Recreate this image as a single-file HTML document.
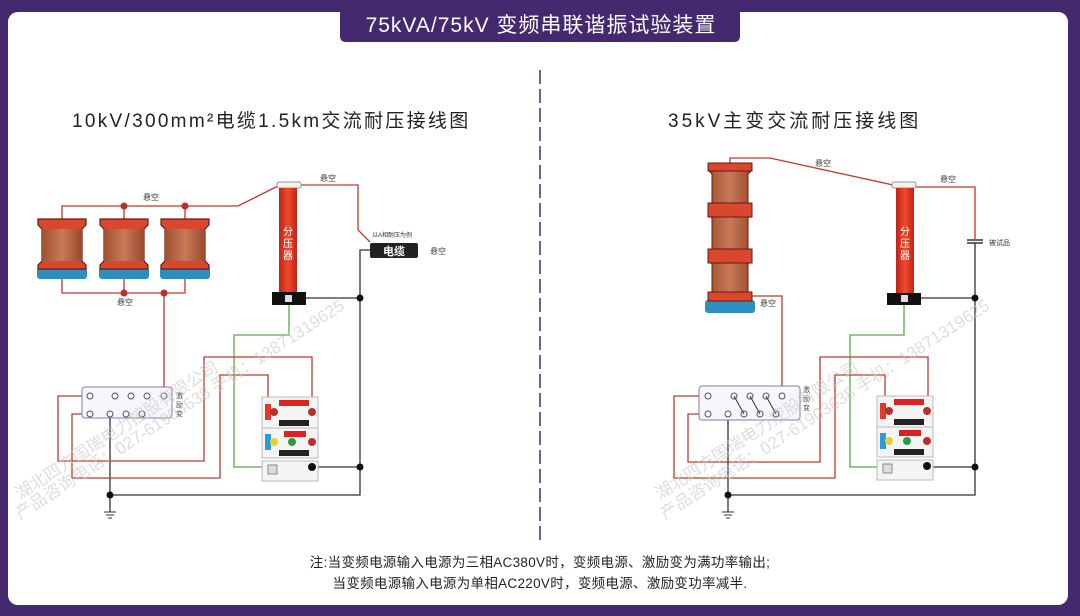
<!DOCTYPE html>
<html><head><meta charset="utf-8"><style>
html,body{margin:0;padding:0;width:1080px;height:616px;overflow:hidden;background:#44296f}
svg{display:block}
text{font-family:"Liberation Sans","Noto Sans CJK SC",sans-serif}
</style></head><body>
<svg width="1080" height="616" viewBox="0 0 1080 616" xmlns="http://www.w3.org/2000/svg">
<defs>
<linearGradient id="coil" x1="0" x2="1" y1="0" y2="0">
<stop offset="0" stop-color="#a0502e"/><stop offset="0.5" stop-color="#c8795a"/><stop offset="1" stop-color="#9a4a2a"/></linearGradient>
<linearGradient id="col" x1="0" x2="1"><stop offset="0" stop-color="#c0231a"/><stop offset="0.5" stop-color="#ee4a2a"/><stop offset="1" stop-color="#c0231a"/></linearGradient>
<g id="react">
<rect x="-3" y="48" width="50" height="12" rx="3" fill="#2e8fbf"/>
<path d="M-2 0 H46 V6 L42 10 V42 L46 46 V50 H-2 V46 L2 42 V10 L-2 6 Z" fill="#d9472e" stroke="#6a1a0f" stroke-width="1.2"/>
<rect x="2" y="10" width="40" height="32" fill="url(#coil)"/>
</g>
<g id="ctrl">
<rect x="0" y="0" width="56" height="31" fill="#f4f4f4" stroke="#bbb"/>
<rect x="3" y="7" width="6" height="16" fill="#e03a2a"/>
<rect x="17" y="3" width="30" height="6" fill="#d22"/>
<rect x="17" y="23" width="30" height="6" fill="#222"/>
<circle cx="12" cy="15" r="4" fill="#b8302a"/><circle cx="50" cy="15" r="4" fill="#b8302a"/>
<rect x="0" y="31" width="56" height="30" fill="#f4f4f4" stroke="#bbb"/>
<rect x="3" y="37" width="6" height="16" fill="#2a9ad8"/>
<rect x="22" y="34" width="22" height="6" fill="#d22"/>
<rect x="17" y="53" width="30" height="6" fill="#222"/>
<circle cx="12" cy="45" r="4" fill="#e8d030"/><circle cx="30" cy="45" r="4" fill="#2a9a3a"/><circle cx="50" cy="45" r="4" fill="#b8302a"/>
<rect x="0" y="64" width="56" height="20" fill="#f4f4f4" stroke="#bbb"/>
<rect x="6" y="68" width="9" height="9" fill="#ddd" stroke="#888"/>
<circle cx="50" cy="70" r="4" fill="#111"/>
</g>
<g id="gnd" stroke="#333" stroke-width="1"><line x1="-6" y1="0" x2="6" y2="0"/><line x1="-4" y1="3" x2="4" y2="3"/><line x1="-2" y1="6" x2="2" y2="6"/></g>
</defs>
<rect x="8" y="12" width="1060" height="593" rx="10" fill="#fff"/>
<path d="M340 8 H740 V36 Q740 42 734 42 H346 Q340 42 340 36 Z" fill="#44296f"/>
<text x="541" y="32" font-size="21" fill="#fff" text-anchor="middle" letter-spacing="1">75kVA/75kV 变频串联谐振试验装置</text>
<line x1="540" y1="70" x2="540" y2="545" stroke="#44296f" stroke-width="1.5" stroke-dasharray="14,5"/>
<text x="72" y="127" font-size="19" fill="#222" letter-spacing="2.3">10kV/300mm²电缆1.5km交流耐压接线图</text>
<text x="668" y="127" font-size="19" fill="#222" letter-spacing="3">35kV主变交流耐压接线图</text>
<text x="540" y="567" font-size="13.5" fill="#222" text-anchor="middle" letter-spacing="0.3">注:当变频电源输入电源为三相AC380V时，变频电源、激励变为满功率输出;</text>
<text x="540" y="588" font-size="13.5" fill="#222" text-anchor="middle" letter-spacing="0.3">当变频电源输入电源为单相AC220V时，变频电源、激励变功率减半.</text>

<!-- LEFT -->
<g fill="none" stroke-width="1.3">
<polyline stroke="#c0392b" points="62,219 62,206 238,206 278,186"/>
<line stroke="#c0392b" x1="124" y1="206" x2="124" y2="219"/><line stroke="#c0392b" x1="185" y1="206" x2="185" y2="219"/>
<polyline stroke="#c0392b" points="62,267 62,293 185,293 185,267"/><line stroke="#c0392b" x1="124" y1="267" x2="124" y2="293"/>
<polyline stroke="#c0392b" points="164,293 164,396"/>
<polyline stroke="#c0392b" points="300,185 358,185 358,230 370,242"/>
<polyline stroke="#333" points="370,250 360,250 360,495 110,495 110,512"/>
<line stroke="#333" x1="306" y1="298" x2="360" y2="298"/>
<line stroke="#333" x1="312" y1="467" x2="360" y2="467"/>
<polyline stroke="#333" points="110,414 110,495"/>
<polyline stroke="#5aa84a" points="289,305 289,335 234,335 234,467 262,467"/>
<polyline stroke="#c0392b" points="312,412 312,357 204,357 204,461 58,461 58,396 88,396"/>
<polyline stroke="#c0392b" points="268,412 268,375 220,375 220,478 72,478 72,414 88,414"/>
</g>
<use href="#react" x="40" y="219"/><use href="#react" x="102" y="219"/><use href="#react" x="163" y="219"/>
<g fill="#b8302a"><circle cx="124" cy="206" r="3.5"/><circle cx="185" cy="206" r="3.5"/><circle cx="124" cy="293" r="3.5"/><circle cx="164" cy="293" r="3.5"/></g>
<g fill="#111"><circle cx="360" cy="298" r="3.5"/><circle cx="360" cy="467" r="3.5"/><circle cx="110" cy="495" r="3.5"/></g>
<rect x="277" y="182" width="24" height="6" rx="2" fill="#f6f2ee" stroke="#999"/>
<rect x="279" y="188" width="18" height="104" fill="url(#col)"/>
<rect x="272" y="292" width="34" height="13" fill="#111"/><rect x="285" y="295" width="7" height="7" fill="#ddd"/>
<text x="288" y="235" font-size="10" fill="#fff" text-anchor="middle">分</text><text x="288" y="247" font-size="10" fill="#fff" text-anchor="middle">压</text><text x="288" y="259" font-size="10" fill="#fff" text-anchor="middle">器</text>
<rect x="370" y="243" width="48" height="15" rx="2" fill="#222"/>
<text x="394" y="255" font-size="11" fill="#fff" text-anchor="middle" font-weight="bold">电缆</text>
<text x="372" y="237" font-size="6" fill="#333">以A相耐压为例</text>
<text x="430" y="254" font-size="8" fill="#333">悬空</text>
<text x="143" y="200" font-size="8" fill="#333">悬空</text>
<text x="117" y="305" font-size="8" fill="#333">悬空</text>
<text x="320" y="181" font-size="8" fill="#333">悬空</text>
<rect x="82" y="387" width="90" height="31" rx="3" fill="#f7f6fa" stroke="#8a7aa8"/>
<g fill="none" stroke="#555"><circle cx="90" cy="396" r="3"/><circle cx="115" cy="396" r="3"/><circle cx="131" cy="396" r="3"/><circle cx="147" cy="396" r="3"/><circle cx="164" cy="396" r="3"/><circle cx="90" cy="414" r="3"/><circle cx="110" cy="414" r="3"/><circle cx="126" cy="414" r="3"/><circle cx="142" cy="414" r="3"/></g>
<text x="176" y="398" font-size="7" fill="#444">激</text><text x="176" y="407" font-size="7" fill="#444">励</text><text x="176" y="416" font-size="7" fill="#444">变</text>
<use href="#ctrl" x="262" y="397"/>
<use href="#gnd" x="110" y="512"/>

<!-- RIGHT -->
<g fill="none" stroke-width="1.3">
<polyline stroke="#c0392b" points="730,163 730,158 770,158 893,185"/>
<polyline stroke="#c0392b" points="916,187 975,187 975,239"/>
<polyline stroke="#333" points="975,243 975,495 728,495 728,512"/>
<line stroke="#333" x1="921" y1="298" x2="975" y2="298"/>
<line stroke="#333" x1="930" y1="467" x2="975" y2="467"/>
<line stroke="#333" x1="728" y1="414" x2="728" y2="495"/>
<polyline stroke="#c0392b" points="752,296 782,296 782,392"/>
<polyline stroke="#5aa84a" points="904,305 904,335 850,335 850,467 878,467"/>
<polyline stroke="#c0392b" points="928,412 928,357 820,357 820,462 688,462 688,414 707,414"/>
<polyline stroke="#c0392b" points="885,412 885,375 835,375 835,478 674,478 674,396 707,396"/>
</g>
<line x1="967" y1="240" x2="983" y2="240" stroke="#333" stroke-width="1.5"/><line x1="967" y1="243" x2="983" y2="243" stroke="#333" stroke-width="1.5"/>
<text x="989" y="245" font-size="7" fill="#333">被试品</text>
<rect x="705" y="300" width="50" height="13" rx="3" fill="#2e8fbf"/>
<path d="M708 163 H752 V170 L748 174 V203 L752 206 V214 L748 218 V249 L752 252 V260 L748 264 V292 L752 296 V301 H708 V296 L712 292 V264 L708 260 V252 L712 249 V218 L708 214 V206 L712 203 V174 L708 170 Z" fill="url(#coil)" stroke="#6a1a0f" stroke-width="1"/>
<g fill="#d9472e" stroke="#6a1a0f" stroke-width="1"><rect x="708" y="163" width="44" height="8"/><rect x="708" y="203" width="44" height="14"/><rect x="708" y="249" width="44" height="14"/><rect x="708" y="292" width="44" height="9"/></g>
<g fill="#111"><circle cx="975" cy="298" r="3.5"/><circle cx="975" cy="467" r="3.5"/><circle cx="728" cy="495" r="3.5"/></g>
<rect x="892" y="182" width="24" height="6" rx="2" fill="#f6f2ee" stroke="#999"/>
<rect x="896" y="188" width="18" height="105" fill="url(#col)"/>
<rect x="887" y="293" width="34" height="12" fill="#111"/><rect x="901" y="295" width="7" height="7" fill="#ddd"/>
<text x="905" y="235" font-size="10" fill="#fff" text-anchor="middle">分</text><text x="905" y="247" font-size="10" fill="#fff" text-anchor="middle">压</text><text x="905" y="259" font-size="10" fill="#fff" text-anchor="middle">器</text>
<text x="815" y="166" font-size="8" fill="#333">悬空</text>
<text x="940" y="182" font-size="8" fill="#333">悬空</text>
<text x="760" y="306" font-size="8" fill="#333">悬空</text>
<rect x="699" y="386" width="101" height="34" rx="3" fill="#f7f6fa" stroke="#8a7aa8"/>
<g fill="none" stroke="#555"><circle cx="708" cy="396" r="3"/><circle cx="734" cy="396" r="3"/><circle cx="750" cy="396" r="3"/><circle cx="766" cy="396" r="3"/><circle cx="782" cy="396" r="3"/><circle cx="708" cy="414" r="3"/><circle cx="728" cy="414" r="3"/><circle cx="744" cy="414" r="3"/><circle cx="760" cy="414" r="3"/><circle cx="776" cy="414" r="3"/></g>
<g stroke="#333"><line x1="734" y1="396" x2="744" y2="414"/><line x1="750" y1="396" x2="760" y2="414"/><line x1="766" y1="396" x2="776" y2="414"/></g>
<text x="803" y="392" font-size="7" fill="#444">激</text><text x="803" y="401" font-size="7" fill="#444">励</text><text x="803" y="410" font-size="7" fill="#444">变</text>
<use href="#ctrl" x="877" y="396"/>
<use href="#gnd" x="728" y="512"/>

<!-- watermarks -->
<g fill="#c8c8c8" opacity="0.6" font-size="17">
<text transform="translate(20,500) rotate(-33)">湖北四方国瑞电力控股有限公司</text>
<text transform="translate(20,520) rotate(-33)">产品咨询电话：027-61903638 手机：13871319625</text>
<text transform="translate(660,500) rotate(-33)">湖北四方国瑞电力控股有限公司</text>
<text transform="translate(665,520) rotate(-33)">产品咨询电话：027-61903638 手机：13871319625</text>
</g>
</svg>
</body></html>
